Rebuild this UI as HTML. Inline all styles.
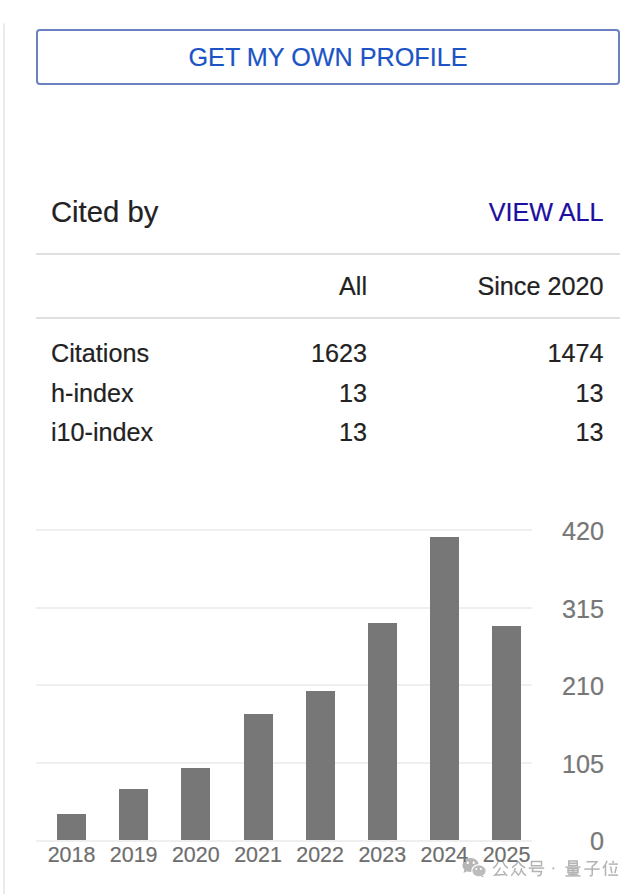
<!DOCTYPE html>
<html>
<head>
<meta charset="utf-8">
<style>
html,body{margin:0;padding:0;background:#fff;}
body{width:640px;height:894px;overflow:hidden;position:relative;font-family:"Liberation Sans",sans-serif;}
.a{position:absolute;white-space:nowrap;line-height:1;-webkit-text-stroke:0.2px currentColor;}
.t{font-size:25.2px;color:#222;}
.r{text-align:right;}
.vl{position:absolute;left:3px;top:23px;width:2px;height:880px;background:linear-gradient(#f6f6f6,#ebebeb 2px);}
.btn{position:absolute;left:36px;top:29px;width:584px;height:56px;box-sizing:border-box;border:2px solid #6a82bf;border-radius:4px;}
.sep{position:absolute;left:36px;width:584px;height:2px;background:#e0e0e0;}
.g{position:absolute;left:36px;width:496px;height:2px;background:#efefef;}
.bar{position:absolute;width:29px;background:#777;}
.yl{font-size:25.2px;color:#777;}
.xl{font-size:21.45px;color:#6e6e6e;}
</style>
</head>
<body>
<div class="vl"></div>
<div class="btn"></div>
<div class="a" style="left:36px;width:584px;text-align:center;top:45px;font-size:25.2px;color:#1c54c6;">GET MY OWN PROFILE</div>

<div class="a" style="left:51px;top:198px;font-size:29.25px;color:#222;">Cited by</div>
<div class="a r" style="right:36.5px;top:199.7px;font-size:25.2px;color:#1c0e9e;">VIEW ALL</div>

<div class="sep" style="top:253px;"></div>
<div class="a t r" style="right:273px;top:273.6px;">All</div>
<div class="a t r" style="right:36.5px;top:273.6px;">Since 2020</div>
<div class="sep" style="top:317px;"></div>

<div class="a t" style="left:51px;top:341.4px;">Citations</div>
<div class="a t r" style="right:273px;top:341.4px;">1623</div>
<div class="a t r" style="right:36.5px;top:341.4px;">1474</div>

<div class="a t" style="left:51px;top:381.1px;">h-index</div>
<div class="a t r" style="right:273px;top:381.1px;">13</div>
<div class="a t r" style="right:36.5px;top:381.1px;">13</div>

<div class="a t" style="left:51px;top:420.1px;">i10-index</div>
<div class="a t r" style="right:273px;top:420.1px;">13</div>
<div class="a t r" style="right:36.5px;top:420.1px;">13</div>

<!-- chart grid -->
<div class="g" style="top:529px;"></div>
<div class="g" style="top:607px;"></div>
<div class="g" style="top:684px;"></div>
<div class="g" style="top:762px;"></div>
<div class="g" style="top:840px;"></div>

<!-- bars -->
<div class="bar" style="left:57px;top:814.4px;height:25.6px;"></div>
<div class="bar" style="left:119.2px;top:789.1px;height:50.9px;"></div>
<div class="bar" style="left:181.3px;top:768.2px;height:71.8px;"></div>
<div class="bar" style="left:243.5px;top:713.7px;height:126.3px;"></div>
<div class="bar" style="left:305.6px;top:690.6px;height:149.4px;"></div>
<div class="bar" style="left:367.8px;top:623px;height:217px;"></div>
<div class="bar" style="left:429.9px;top:537.3px;height:302.7px;"></div>
<div class="bar" style="left:492px;top:626.2px;height:213.8px;"></div>

<!-- watermark -->
<svg style="position:absolute;left:0;top:0;" width="640" height="894" viewBox="0 0 640 894">
 <g opacity="0.85">
  <ellipse cx="470.6" cy="865" rx="8.2" ry="7" fill="#a9a9a9"/>
  <path d="M464.5 869 L463.5 873 L467.5 871 Z" fill="#a9a9a9"/>
  <circle cx="467.8" cy="862.8" r="1.2" fill="#fff"/>
  <circle cx="473.7" cy="862.8" r="1.2" fill="#fff"/>
  <ellipse cx="479" cy="870.8" rx="7.2" ry="6.1" fill="#b1b1b1" stroke="#fff" stroke-width="1.2"/>
  <path d="M482.5 875.5 L484.2 877.6 L480.5 876.6 Z" fill="#b1b1b1"/>
  <circle cx="476.3" cy="869" r="1" fill="#fff"/>
  <circle cx="480.8" cy="869" r="1" fill="#fff"/>
 </g>
 <g fill="none" stroke="#b3b3b3" stroke-width="1.5" stroke-linecap="butt" stroke-linejoin="miter">
  <!-- 公 -->
  <g transform="translate(492.5,860.5)">
   <path d="M6 0.8 C5 3.5 3 6 0.5 7.8"/>
   <path d="M10 0.8 C11 3.5 13 6 15.5 7.8"/>
   <path d="M8 7.2 C6.5 10 5 12.5 2.5 14.6 L13 14"/>
   <path d="M10.8 10.6 L14.6 15.4"/>
  </g>
  <!-- 众 -->
  <g transform="translate(510.5,860.5)">
   <path d="M8 0.5 C6.8 3 4.5 5.5 1.5 7.2"/>
   <path d="M8 1.5 C9.5 4 11.5 5.8 14.8 7.2"/>
   <path d="M4.8 7.5 C4.3 10.5 3 13 0.8 15.2"/>
   <path d="M4.6 10.6 L7.6 14.2"/>
   <path d="M11.2 7.5 C10.8 10.5 9.6 13 7.6 15.2"/>
   <path d="M11.2 9.8 C12 12 13.4 13.8 15.5 15.2"/>
  </g>
  <!-- 号 -->
  <g transform="translate(528.5,860.5)">
   <path d="M3 1 H13 V5.2 H3 Z"/>
   <path d="M0.3 7.6 H15.7"/>
   <path d="M4.6 7.6 L3.8 10.9 H13 C12.8 13.5 12.2 15 10.6 15.3 L8.8 15"/>
  </g>
  <!-- 量 -->
  <g transform="translate(565,860.5)">
   <path d="M3.8 0.6 H12.2 V5 H3.8 Z M3.8 2.8 H12.2"/>
   <path d="M0.5 6.6 H15.5"/>
   <path d="M3 8.2 H13 V12.2 H3 Z M3 10.2 H13 M8 8.2 V15.3"/>
   <path d="M3.2 13.7 H12.8"/>
   <path d="M0.5 15.4 H15.5"/>
  </g>
  <!-- 子 -->
  <g transform="translate(584,860.5)">
   <path d="M2.5 1.3 H13 C11.8 3 10.2 4.6 8.2 5.8"/>
   <path d="M8.2 5.6 V14 C8.2 15.2 7.6 15.5 5.6 15.1"/>
   <path d="M0.3 8.6 H15.7"/>
  </g>
  <!-- 位 -->
  <g transform="translate(602.5,860.5)">
   <path d="M4.6 0.3 C3.6 3.2 2.3 5.6 0.4 7.8"/>
   <path d="M3 4.6 V15.6"/>
   <path d="M10.2 0.2 L11 2.6"/>
   <path d="M6.2 3.6 H15.4"/>
   <path d="M8 6 L9.4 12.6"/>
   <path d="M14 6 L12.4 12.6"/>
   <path d="M5.8 14.6 H15.6"/>
  </g>
 </g>
 <circle cx="553.4" cy="868.3" r="1.1" fill="#b3b3b3"/>
</svg>
<!-- y labels -->
<div class="a yl r" style="right:36px;top:519.3px;">420</div>
<div class="a yl r" style="right:36px;top:596.8px;">315</div>
<div class="a yl r" style="right:36px;top:674.3px;">210</div>
<div class="a yl r" style="right:36px;top:751.8px;">105</div>
<div class="a yl r" style="right:36px;top:829.3px;">0</div>

<!-- x labels -->
<div class="a xl" style="left:21.5px;width:100px;text-align:center;top:844.8px;">2018</div>
<div class="a xl" style="left:83.7px;width:100px;text-align:center;top:844.8px;">2019</div>
<div class="a xl" style="left:145.8px;width:100px;text-align:center;top:844.8px;">2020</div>
<div class="a xl" style="left:208px;width:100px;text-align:center;top:844.8px;">2021</div>
<div class="a xl" style="left:270.1px;width:100px;text-align:center;top:844.8px;">2022</div>
<div class="a xl" style="left:332.3px;width:100px;text-align:center;top:844.8px;">2023</div>
<div class="a xl" style="left:394.4px;width:100px;text-align:center;top:844.8px;">2024</div>
<div class="a xl" style="left:456.5px;width:100px;text-align:center;top:844.8px;">2025</div>

</body>
</html>
